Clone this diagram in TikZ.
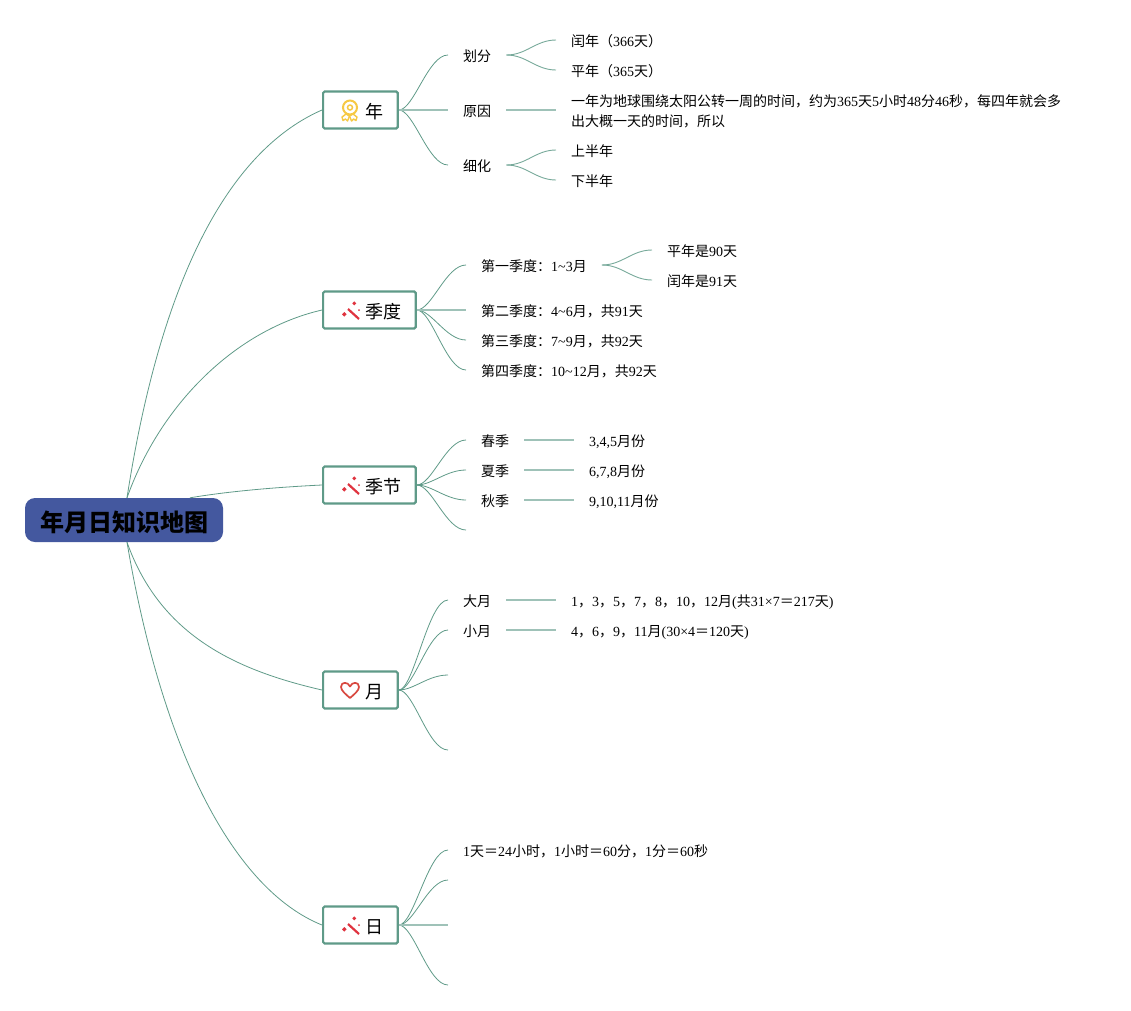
\documentclass[tikz,border=0pt]{standalone}
\usepackage{fontspec}
\setmainfont{Liberation Serif}
\newfontfamily\zhfont{Noto Sans CJK SC}
\newcommand{\zh}[1]{{\zhfont #1}}
\definecolor{branchgreen}{HTML}{5F9A88}
\definecolor{rootblue}{HTML}{44589F}
\definecolor{wandred}{HTML}{E0333F}
\definecolor{medalgold}{HTML}{F6C945}
\definecolor{heartred}{HTML}{D8483F}

\tikzset{
  medal/.pic = {
    \draw[medalgold, line width=1.4pt, line join=round, fill=white] (-3,4) -- (-7,7) -- (-6,10.5) -- (-3.5,9) -- (-1.5,11) -- (0.5,6) -- cycle;
    \draw[medalgold, line width=1.4pt, line join=round, fill=white] (4,4) -- (8,7) -- (7,10.5) -- (4.5,9) -- (2.5,11) -- (0.5,6) -- cycle;
    \draw[medalgold, line width=2pt, fill=white] (1,-2.5) circle (7pt);
    \draw[medalgold, line width=1.5pt] (1,-2.5) circle (2.5pt);
  },
  wand/.pic = {
    \draw[wandred, line width=2.2pt] (-1,-1) -- (10,9);
    \fill[wandred] (-7,4.3) -- (-4.7,2) -- (-2.4,4.3) -- (-4.7,6.6) -- cycle;
    \fill[wandred] (3.3,-6.7) -- (5.3,-8.7) -- (7.3,-6.7) -- (5.3,-4.7) -- cycle;
    \fill[wandred] (10,0) circle (1pt);
  },
  heart/.pic = {
    \draw[heartred, line width=1.7pt, line join=round] (1,8)
      .. controls (-3,4.5) and (-8,0.5) .. (-8,-3)
      .. controls (-8,-8.5) and (-1,-8.5) .. (1,-3.5)
      .. controls (3,-8.5) and (10,-8.5) .. (10,-3)
      .. controls (10,0.5) and (5,4.5) .. (1,8) -- cycle;
  }
}

\begin{document}
\begin{tikzpicture}[
    x=1pt, y=-1pt,
    root/.style   = {rectangle, fill=rootblue, rounded corners=10pt,
                     minimum width=198pt, minimum height=44pt,
                     text height=23pt, text depth=0pt,
                     font=\zhfont\bfseries\fontsize{24}{24}\selectfont},
    topic/.style  = {rectangle, draw=branchgreen, line width=2.2pt, fill=white,
                     rounded corners=1.5pt, anchor=west, minimum height=37pt,
                     inner xsep=14.3pt, inner ysep=0pt,
                     text height=16pt, text depth=0pt,
                     font=\zhfont\fontsize{18}{18}\selectfont},
    leaf/.style   = {anchor=west, inner xsep=15pt, inner ysep=0pt,
                     text height=12pt, text depth=0pt,
                     font=\fontsize{14}{14}\selectfont},
    longleaf/.style = {anchor=west, inner xsep=15pt, inner ysep=0pt, align=left,
                     font=\fontsize{14}{20}\selectfont},
    mainline/.style = {draw=branchgreen, line width=0.8pt},
    flatline/.style = {draw=branchgreen!60, line width=1.4pt},
    subline/.style  = {draw=branchgreen!85, line width=0.9pt},
    scurve/.style   = {out=0, in=180, out max distance=15pt, in max distance=20pt}
  ]
  \useasboundingbox (0,0) rectangle (1131,1010);

  % root and topics
  \node[root] (root) at (124,520) {年月日知识地图};
  \node[topic] (year)   at (322,110) {\hspace*{28pt}年};
  \node[topic] (quart)  at (322,310) {\hspace*{28pt}季度};
  \node[topic] (season) at (322,485) {\hspace*{28pt}季节};
  \node[topic] (month)  at (322,690) {\hspace*{28pt}月};
  \node[topic] (day)    at (322,925) {\hspace*{28pt}日};

  \pic at ([xshift=27pt]year.west)   {medal};
  \pic at ([xshift=27pt]quart.west)  {wand};
  \pic at ([xshift=27pt]season.west) {wand};
  \pic at ([xshift=27pt]month.west)  {heart};
  \pic at ([xshift=27pt]day.west)    {wand};

  % year
  \node[leaf] (split)  at (448,55)  {\zh{划分}};
  \node[leaf] (reason) at (448,110) {\zh{原因}};
  \node[leaf] (halves) at (448,165) {\zh{细化}};
  \node[leaf] (leap)   at (556,40)  {\zh{闰年（}366\zh{天）}};
  \node[leaf] (common) at (556,70)  {\zh{平年（}365\zh{天）}};
  \node[longleaf] (why) at (556,111)
       {\zh{一年为地球围绕太阳公转一周的时间，约为}365\zh{天}5\zh{小时}48\zh{分}46\zh{秒，每四年就会多}\\\zh{出大概一天的时间，所以}};
  \node[leaf] (firsthalf)  at (556,150) {\zh{上半年}};
  \node[leaf] (secondhalf) at (556,180) {\zh{下半年}};

  % quarters
  \node[leaf] (qone)   at (466,265) {\zh{第一季度：}1\textasciitilde3\zh{月}};
  \node[leaf] (qtwo)   at (466,310) {\zh{第二季度：}4\textasciitilde6\zh{月，共}91\zh{天}};
  \node[leaf] (qthree) at (466,340) {\zh{第三季度：}7\textasciitilde9\zh{月，共}92\zh{天}};
  \node[leaf] (qfour)  at (466,370) {\zh{第四季度：}10\textasciitilde12\zh{月，共}92\zh{天}};
  \node[leaf] (qcommon) at (652,250) {\zh{平年是}90\zh{天}};
  \node[leaf] (qleap)   at (652,280) {\zh{闰年是}91\zh{天}};

  % seasons
  \node[leaf] (spring) at (466,440) {\zh{春季}};
  \node[leaf] (summer) at (466,470) {\zh{夏季}};
  \node[leaf] (autumn) at (466,500) {\zh{秋季}};
  \coordinate (winter) at (466,530);
  \node[leaf] (springm) at (574,440) {3,4,5\zh{月份}};
  \node[leaf] (summerm) at (574,470) {6,7,8\zh{月份}};
  \node[leaf] (autumnm) at (574,500) {9,10,11\zh{月份}};

  % months
  \node[leaf] (big)   at (448,600) {\zh{大月}};
  \node[leaf] (small) at (448,630) {\zh{小月}};
  \coordinate (mthree) at (448,675);
  \coordinate (mfour)  at (448,750);
  \node[leaf] (bigm)   at (556,600) {1\zh{，}3\zh{，}5\zh{，}7\zh{，}8\zh{，}10\zh{，}12\zh{月}(\zh{共}31×7\zh{＝}217\zh{天})};
  \node[leaf] (smallm) at (556,630) {4\zh{，}6\zh{，}9\zh{，}11\zh{月}(30×4\zh{＝}120\zh{天})};

  % days
  \node[leaf] (hours) at (448,850) {1\zh{天＝}24\zh{小时，}1\zh{小时＝}60\zh{分，}1\zh{分＝}60\zh{秒}};
  \coordinate (dtwo)   at (448,880);
  \coordinate (dthree) at (448,925);
  \coordinate (dfour)  at (448,985);

  % root arrows
  \draw[mainline] ([xshift=3pt]root.north) .. controls (163,265) and (235,148) .. (year.west);
  \draw[mainline] ([xshift=3pt]root.north) .. controls (160,405) and (235,330) .. (quart.west);
  \draw[mainline] ([xshift=66pt]root.north) .. controls (230,491) and (280,487) .. (season.west);
  \draw[mainline] ([xshift=3pt]root.south) .. controls (160,635) and (235,670) .. (month.west);
  \draw[mainline] ([xshift=3pt]root.south) .. controls (163,755) and (235,890) .. (day.west);

  % first level branches
  \foreach \a/\b in {year/split, year/halves,
                     quart/qone, quart/qthree, quart/qfour,
                     season/spring, season/summer, season/autumn, season/winter,
                     month/big, month/small, month/mthree, month/mfour,
                     day/hours, day/dtwo, day/dfour}
    \draw[mainline] (\a.east) to[scurve] (\b.west);
  \draw[flatline] (year.east) -- (reason.west);
  \draw[flatline] (quart.east) -- (qtwo.west);
  \draw[flatline] (day.east) -- (dthree);

  % second level branches
  \foreach \a/\b in {split/leap, split/common, halves/firsthalf, halves/secondhalf,
                     qone/qcommon, qone/qleap}
    \draw[subline] (\a.east) to[out=0,in=180] (\b.west);
  \draw[flatline] (reason.east) -- (reason.east -| why.west);
  \foreach \a/\b in {spring/springm, summer/summerm, autumn/autumnm,
                     big/bigm, small/smallm}
    \draw[flatline] (\a.east) -- (\b.west);
\end{tikzpicture}
\end{document}
